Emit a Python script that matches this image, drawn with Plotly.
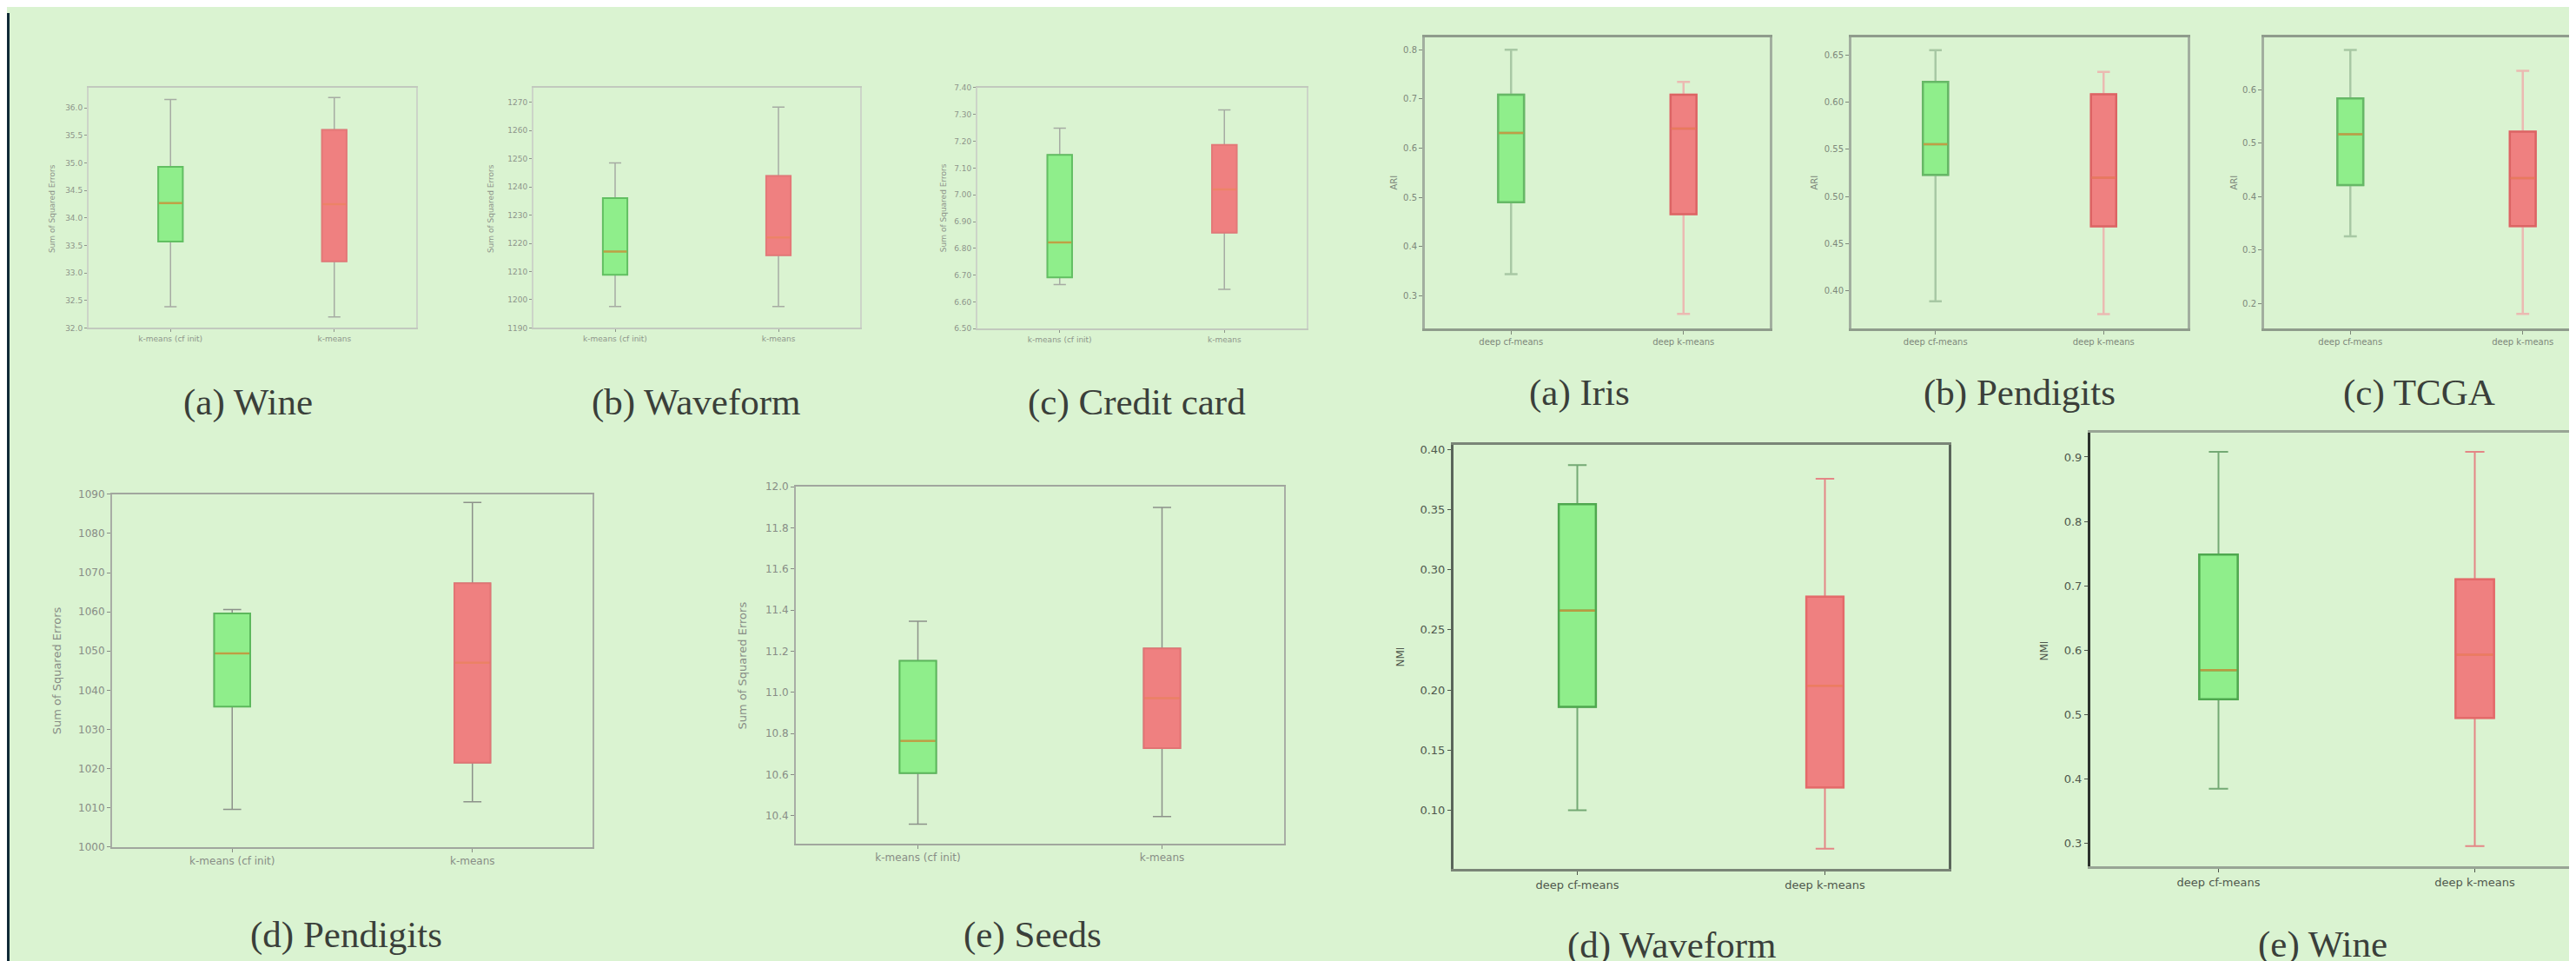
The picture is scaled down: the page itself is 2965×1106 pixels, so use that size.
import plotly.graph_objects as go

W, H = 2965, 1106
BG = "#daf3d1"

# ---------------- data ----------------
SSE_CATS = ["k-means (cf init)", "k-means"]
DEEP_CATS = ["deep cf-means", "deep k-means"]

# five-number summaries: [lower whisker, Q1, median, Q3, upper whisker]
WINE_SSE_CF = [32.385, 33.57, 34.27, 34.93, 36.156]
WINE_SSE_KM = [32.20, 33.21, 34.25, 35.60, 36.19]
WAVE_SSE_CF = [1197.6, 1208.8, 1217.1, 1236.0, 1248.5]
WAVE_SSE_KM = [1197.6, 1215.8, 1222.1, 1243.9, 1268.3]
CREDIT_SSE_CF = [6.665, 6.692, 6.822, 7.149, 7.249]
CREDIT_SSE_KM = [6.647, 6.859, 7.02, 7.186, 7.317]
PEN_SSE_CF = [1009.6, 1035.8, 1049.4, 1059.6, 1060.6]
PEN_SSE_KM = [1011.5, 1021.5, 1047.0, 1067.3, 1087.9]
SEEDS_SSE_CF = [10.359, 10.607, 10.763, 11.153, 11.345]
SEEDS_SSE_KM = [10.396, 10.729, 10.971, 11.213, 11.899]

IRIS_ARI_CF = [0.344, 0.490, 0.631, 0.709, 0.800]
IRIS_ARI_KM = [0.263, 0.466, 0.640, 0.709, 0.735]
PEN_ARI_CF = [0.389, 0.523, 0.5555, 0.6215, 0.655]
PEN_ARI_KM = [0.3755, 0.4685, 0.520, 0.6085, 0.632]
TCGA_ARI_CF = [0.326, 0.422, 0.517, 0.584, 0.675]
TCGA_ARI_KM = [0.181, 0.345, 0.435, 0.522, 0.636]
WAVE_NMI_CF = [0.100, 0.186, 0.266, 0.3545, 0.387]
WAVE_NMI_KM = [0.068, 0.119, 0.2035, 0.2776, 0.3756]
WINE_NMI_CF = [0.385, 0.524, 0.569, 0.7485, 0.908]
WINE_NMI_KM = [0.296, 0.495, 0.593, 0.710, 0.908]

# tick values
WINE_SSE_TICKS = [32.0, 32.5, 33.0, 33.5, 34.0, 34.5, 35.0, 35.5, 36.0]
WAVE_SSE_TICKS = [1190, 1200, 1210, 1220, 1230, 1240, 1250, 1260, 1270]
CREDIT_SSE_TICKS = [6.5, 6.6, 6.7, 6.8, 6.9, 7.0, 7.1, 7.2, 7.3, 7.4]
PEN_SSE_TICKS = [1000, 1010, 1020, 1030, 1040, 1050, 1060, 1070, 1080, 1090]
SEEDS_SSE_TICKS = [10.4, 10.6, 10.8, 11.0, 11.2, 11.4, 11.6, 11.8, 12.0]
IRIS_ARI_TICKS = [0.3, 0.4, 0.5, 0.6, 0.7, 0.8]
PEN_ARI_TICKS = [0.40, 0.45, 0.50, 0.55, 0.60, 0.65]
TCGA_ARI_TICKS = [0.2, 0.3, 0.4, 0.5, 0.6]
WAVE_NMI_TICKS = [0.10, 0.15, 0.20, 0.25, 0.30, 0.35, 0.40]
WINE_NMI_TICKS = [0.3, 0.4, 0.5, 0.6, 0.7, 0.8, 0.9]

SSE_TITLE = "Sum of Squared Errors"
ARI_TITLE = "ARI"
NMI_TITLE = "NMI"

CAPTIONS = ["(a) Wine", "(b) Waveform", "(c) Credit card", "(d) Pendigits", "(e) Seeds",
            "(a) Iris", "(b) Pendigits", "(c) TCGA", "(d) Waveform", "(e) Wine"]

# ---------------- styles ----------------
STYLES = {
    "TL": dict(xline="#c2c9be", yline="#ccd4c8", lw=2, tick=9, tcol="#8e958b", ticklen=3,
               wg="#a6aba3", wr="#a6aba3", ww=1.5, eg="#62bf62", er="#e47878", ew=2,
               xfont=9, title=9),
    "BL": dict(xline="#a1a69e", yline="#a8ada5", lw=2, tick=12, tcol="#888d86", ticklen=4,
               wg="#8c918a", wr="#8c918a", ww=1.5, eg="#5cb85c", er="#e27474", ew=2,
               xfont=12, title=13),
    "TR": dict(xline="#8f9c8c", yline="#a2ae9f", lw=3, tick=10, tcol="#7e887b", ticklen=4,
               wg="#a8c8a4", wr="#ebbab2", ww=2.5, eg="#66b866", er="#dc6464", ew=2.5,
               xfont=10, title=10),
    "BR": dict(xline="#7a8577", yline="#5a655a", lw=3, tick=13, tcol="#4f584d", ticklen=4,
               wg="#74a974", wr="#e48686", ww=2, eg="#4fa84f", er="#e46a6a", ew=2.5,
               xfont=13, title=12),
}
FILL_G = "#8fee8b"
FILL_R = "#ef8080"
MED_G = "rgba(222,150,60,0.75)"
MED_R = "rgba(242,140,90,0.55)"

# panel frames in pixels: (x0, x1, y0, y1), x range max, y range, tick format, title pos
PANELS = [
    dict(cats=SSE_CATS, cf=WINE_SSE_CF, km=WINE_SSE_KM, ticks=WINE_SSE_TICKS, fmt=".1f",
         yr=[32.0, 36.37], fr=(94, 471, 87, 367), xmax=2.5, st="TL", title=SSE_TITLE, tp=(52, 228),
         cap=CAPTIONS[0], cp=(277, 454)),
    dict(cats=SSE_CATS, cf=WAVE_SSE_CF, km=WAVE_SSE_KM, ticks=WAVE_SSE_TICKS, fmt="d",
         yr=[1190, 1275.2], fr=(606, 982, 87, 367), xmax=2.5, st="TL", title=SSE_TITLE, tp=(557, 228),
         cap=CAPTIONS[1], cp=(794, 454)),
    dict(cats=SSE_CATS, cf=CREDIT_SSE_CF, km=CREDIT_SSE_KM, ticks=CREDIT_SSE_TICKS, fmt=".2f",
         yr=[6.5, 7.4], fr=(1117, 1496, 87, 368), xmax=2.5, st="TL", title=SSE_TITLE, tp=(1078, 227),
         cap=CAPTIONS[2], cp=(1300, 454)),
    dict(cats=SSE_CATS, cf=PEN_SSE_CF, km=PEN_SSE_KM, ticks=PEN_SSE_TICKS, fmt="d",
         yr=[1000, 1090], fr=(121, 674, 561, 972), xmax=2.5, st="BL", title=SSE_TITLE, tp=(57, 767),
         cap=CAPTIONS[3], cp=(390, 1075)),
    dict(cats=SSE_CATS, cf=SEEDS_SSE_CF, km=SEEDS_SSE_KM, ticks=SEEDS_SSE_TICKS, fmt=".1f",
         yr=[10.265, 12.0], fr=(908, 1470, 552, 968), xmax=2.5, st="BL", title=SSE_TITLE, tp=(846, 760),
         cap=CAPTIONS[4], cp=(1180, 1075)),
    dict(cats=DEEP_CATS, cf=IRIS_ARI_CF, km=IRIS_ARI_KM, ticks=IRIS_ARI_TICKS, fmt=".1f",
         yr=[0.233, 0.826], fr=(1632, 2029, 28, 368), xmax=2.5, st="TR", title=ARI_TITLE, tp=(1596, 198),
         cap=CAPTIONS[5], cp=(1810, 443)),
    dict(cats=DEEP_CATS, cf=PEN_ARI_CF, km=PEN_ARI_KM, ticks=PEN_ARI_TICKS, fmt=".2f",
         yr=[0.36, 0.669], fr=(2123, 2510, 28, 368), xmax=2.5, st="TR", title=ARI_TITLE, tp=(2080, 198),
         cap=CAPTIONS[6], cp=(2316, 443)),
    dict(cats=DEEP_CATS, cf=TCGA_ARI_CF, km=TCGA_ARI_KM, ticks=TCGA_ARI_TICKS, fmt=".1f",
         yr=[0.153, 0.699], fr=(2598, 2965, 28, 368), xmax=2.349, st="TR", title=ARI_TITLE, tp=(2563, 198),
         cap=CAPTIONS[7], cp=(2776, 443)),
    dict(cats=DEEP_CATS, cf=WAVE_NMI_CF, km=WAVE_NMI_KM, ticks=WAVE_NMI_TICKS, fmt=".2f",
         yr=[0.051, 0.404], fr=(1665, 2235, 503, 998), xmax=2.5, st="BR", title=NMI_TITLE, tp=(1604, 751),
         cap=CAPTIONS[8], cp=(1916, 1087)),
    dict(cats=DEEP_CATS, cf=WINE_NMI_CF, km=WINE_NMI_KM, ticks=WINE_NMI_TICKS, fmt=".1f",
         yr=[0.264, 0.938], fr=(2398, 2965, 489, 995), xmax=2.422, st="BR", title=NMI_TITLE, tp=(2345, 744),
         cap=CAPTIONS[9], cp=(2665, 1086), yline="#2c322c", xline="#98a595"),
]

fig = go.Figure()
annotations = []
BOXW = 0.15

for i, p in enumerate(PANELS, start=1):
    s = STYLES[p["st"]]
    xa, ya = f"x{i}", f"y{i}"
    x0, x1, y0, y1 = p["fr"]
    cut = x1 >= W
    for pos, vals, wc, ec, fc, mc in ((1, p["cf"], s["wg"], s["eg"], FILL_G, MED_G),
                                      (2, p["km"], s["wr"], s["er"], FILL_R, MED_R)):
        lo, q1, med, q3, hi = vals
        fig.add_trace(go.Box(x=[pos], lowerfence=[lo], q1=[q1], median=[med], q3=[q3], upperfence=[hi],
                             width=BOXW, whiskerwidth=0.5, boxpoints=False,
                             line=dict(color=wc, width=s["ww"]), fillcolor="rgba(0,0,0,0)",
                             xaxis=xa, yaxis=ya, showlegend=False, hoverinfo="skip"))
        fig.add_trace(go.Box(x=[pos], lowerfence=[q1], q1=[q1], median=[med], q3=[q3], upperfence=[q3],
                             width=BOXW, whiskerwidth=0, boxpoints=False,
                             line=dict(color=ec, width=s["ew"]), fillcolor=fc,
                             xaxis=xa, yaxis=ya, showlegend=False, hoverinfo="skip"))
        fig.add_trace(go.Scatter(x=[pos - BOXW / 2 + 0.004, pos + BOXW / 2 - 0.004], y=[med, med],
                                 mode="lines", line=dict(color=mc, width=2.5),
                                 xaxis=xa, yaxis=ya, showlegend=False, hoverinfo="skip"))
    fmt = p["fmt"]
    ticktext = [format(t, fmt) if fmt != "d" else str(int(t)) for t in p["ticks"]]
    fig.update_layout(**{
        f"xaxis{i}": dict(domain=[x0 / W, min(x1 / W, 1.0)], range=[0.5, p["xmax"]], anchor=ya,
                          tickmode="array", tickvals=[1, 2], ticktext=p["cats"],
                          showgrid=False, zeroline=False, showline=True, mirror=True,
                          linecolor=p.get("xline", s["xline"]), linewidth=s["lw"], ticks="outside",
                          ticklen=s["ticklen"], tickcolor=s["tcol"], tickwidth=1,
                          tickfont=dict(family="DejaVu Sans", size=s["xfont"], color=s["tcol"]),
                          fixedrange=True),
        f"yaxis{i}": dict(domain=[1 - y1 / H, 1 - y0 / H], range=p["yr"], anchor=xa,
                          tickmode="array", tickvals=p["ticks"], ticktext=ticktext,
                          showgrid=False, zeroline=False, showline=True, mirror=not cut,
                          linecolor=p.get("yline", s["yline"]), linewidth=s["lw"], ticks="outside",
                          ticklen=s["ticklen"], tickcolor=s["tcol"], tickwidth=1,
                          tickfont=dict(family="DejaVu Sans", size=s["tick"], color=s["tcol"]),
                          fixedrange=True),
    })
    tx, ty = p["tp"]
    annotations.append(dict(text=p["title"], x=tx / W, y=1 - ty / H, xref="paper", yref="paper",
                            showarrow=False, textangle=-90, xanchor="center", yanchor="middle",
                            font=dict(family="DejaVu Sans", size=s["title"], color=s["tcol"])))
    cx, cy = p["cp"]
    annotations.append(dict(text=p["cap"], x=cx / W, y=1 - cy / H, xref="paper", yref="paper",
                            showarrow=False, xanchor="center", yanchor="middle",
                            font=dict(family="Liberation Serif", size=43, color="#3a3f3a")))

fig.update_layout(
    width=W, height=H, margin=dict(l=0, r=0, t=0, b=0),
    paper_bgcolor=BG, plot_bgcolor=BG, boxmode="overlay",
    annotations=annotations,
    shapes=[dict(type="rect", xref="paper", yref="paper", x0=0, x1=3 / W, y0=0, y1=1,
                 fillcolor="#102a37", line=dict(width=0), layer="above")],
)

fig.write_html("out.html", include_plotlyjs=True, config={"displayModeBar": False})
